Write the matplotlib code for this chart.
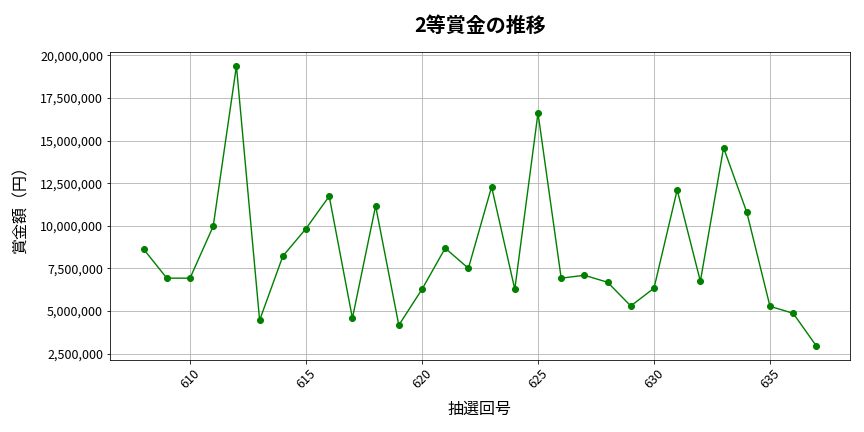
import matplotlib
matplotlib.use("Agg")
import matplotlib.pyplot as plt
from matplotlib.ticker import FuncFormatter

plt.rcParams['font.family'] = ['Noto Sans CJK JP', 'DejaVu Sans']

draws = list(range(608, 638))
prizes = [8630000, 6930000, 6930000, 9980000, 19380000, 4460000, 8220000, 9840000,
          11740000, 4580000, 11170000, 4170000, 6280000, 8690000, 7510000, 12290000,
          6280000, 16620000, 6930000, 7100000, 6690000, 5300000, 6340000, 12110000,
          6750000, 14580000, 10800000, 5280000, 4870000, 2950000]

title = "2等賞金の推移"
xlabel = "抽選回号"
ylabel = "賞金額（円）"

fig, ax = plt.subplots(figsize=(12, 6), dpi=72)
ax.plot(draws, prizes, marker='o', color='green', linestyle='-', markersize=6, linewidth=1.4)
ax.set_title(title, fontsize=20, fontweight='bold', pad=20)
ax.set_xlabel(xlabel, fontsize=16, labelpad=10)
ax.set_ylabel(ylabel, fontsize=16, labelpad=10)
ax.yaxis.set_major_formatter(FuncFormatter(lambda v, p: f"{int(v):,}"))
ax.tick_params(labelsize=12.5)
ax.grid(True)
plt.setp(ax.get_xticklabels(), rotation=45)
fig.subplots_adjust(left=110/864, right=850/864, top=1-52/432, bottom=1-360/432)
fig.savefig("out.png", dpi=72)
